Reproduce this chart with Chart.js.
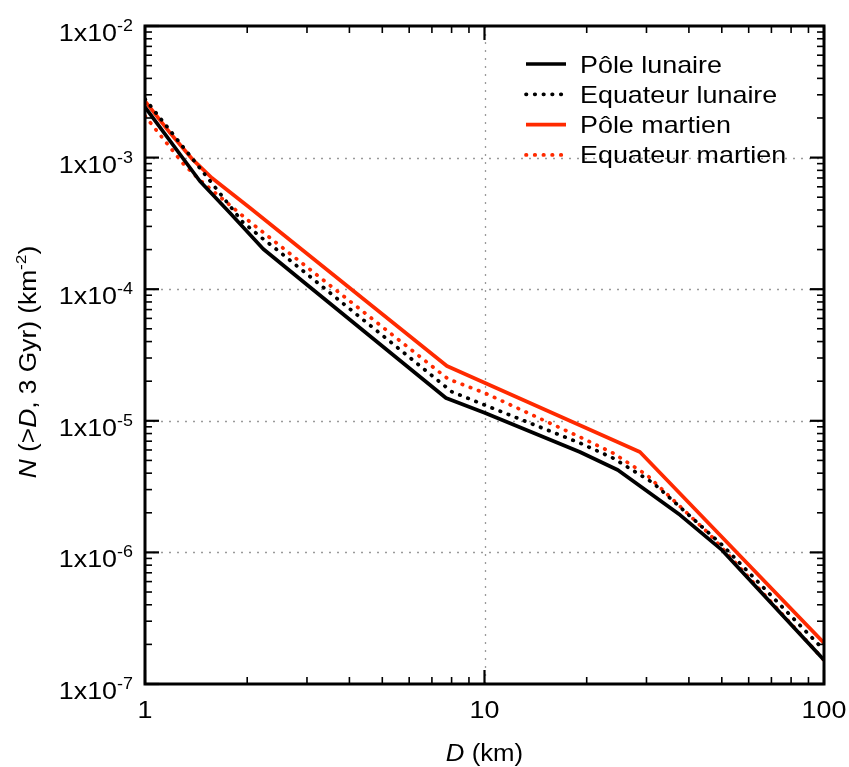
<!DOCTYPE html>
<html>
<head>
<meta charset="utf-8">
<script src="https://cdn.jsdelivr.net/npm/chart.js@4.4.0/dist/chart.umd.min.js"></script>
<style>
  html, body { margin: 0; padding: 0; background: #fff; }
  #wrap { width: 849px; height: 767px; position: relative; }
</style>
</head>
<body>
<div id="wrap"><canvas id="craterChart"></canvas></div>
<script>
// Données (D en km, N cumulé en km^-2)
const poleLunaireD = [1, 1.45, 1.78, 2.23, 2.86, 7.7, 10, 19.1, 24.7, 37.7, 50.1, 100];
const poleLunaireN = [2.42e-3, 6.64e-4, 3.79e-4, 2.02e-4, 1.195e-4, 1.49e-5, 1.15e-5, 5.79e-6, 4.23e-6, 1.92e-6, 1.04e-6, 1.52e-7];

const equateurLunaireD = [1, 1.94, 2.21, 2.45, 8.02, 10, 19.1, 23.9, 31.4, 50.1, 100];
const equateurLunaireN = [2.79e-3, 3.24e-4, 2.45e-4, 1.99e-4, 1.66e-5, 1.32e-5, 6.78e-6, 5.21e-6, 3.37e-6, 1.14e-6, 1.81e-7];

const poleMartienD = [1, 1.185, 1.385, 1.575, 2.04, 7.75, 28.7, 100];
const poleMartienN = [2.69e-3, 1.54e-3, 9.6e-4, 7.0e-4, 4.14e-4, 2.61e-5, 5.79e-6, 2.05e-7];

const equateurMartienD = [1, 1.29, 1.45, 2.04, 7.81, 10, 19.1, 23.9, 30.1, 46.2, 100];
const equateurMartienN = [2.07e-3, 9.1e-4, 6.76e-4, 3.24e-4, 2.08e-5, 1.63e-5, 7.53e-6, 5.69e-6, 3.87e-6, 1.36e-6, 1.52e-7];

// Graduations
const xMajorTicks = [1, 10, 100];
const xTickLabels = ['1', '10', '100'];
const yMajorTicks = [1e-7, 1e-6, 1e-5, 1e-4, 1e-3, 1e-2];
const yTickExponents = ['-7', '-6', '-5', '-4', '-3', '-2'];

const ROUGE = '#ff2a00';
const FONT = '"Liberation Sans", Arial, Helvetica, sans-serif';
const STRETCH = 1.12;

function toPoints(xs, ys) {
    return xs.map((x, i) => ({ x: x, y: ys[i] }));
}

// Texte étiré horizontalement (la police d'origine est plus large)
function drawText(ctx, str, x, y, size, opts) {
    opts = opts || {};
    ctx.save();
    ctx.font = (opts.italic ? 'italic ' : '') + size + 'px ' + FONT;
    ctx.fillStyle = '#000';
    ctx.textBaseline = 'alphabetic';
    ctx.textAlign = 'left';
    const w = ctx.measureText(str).width * STRETCH;
    let x0 = x;
    if (opts.align === 'center') x0 = x - w / 2;
    if (opts.align === 'right') x0 = x - w;
    ctx.translate(x0, y);
    ctx.scale(STRETCH, 1);
    ctx.fillText(str, 0, 0);
    ctx.restore();
    return w;
}

function textWidth(ctx, str, size, italic) {
    ctx.save();
    ctx.font = (italic ? 'italic ' : '') + size + 'px ' + FONT;
    const w = ctx.measureText(str).width * STRETCH;
    ctx.restore();
    return w;
}

function minorValues(min, max) {
    const vals = [];
    for (let e = Math.round(Math.log10(min)); e < Math.round(Math.log10(max)); e++) {
        for (let k = 2; k <= 9; k++) vals.push(k * Math.pow(10, e));
    }
    return vals;
}

const axesPlugin = {
    id: 'axesPlugin',
    beforeDatasetsDraw(chart) {
        const { ctx, chartArea: a, scales: { x, y } } = chart;
        ctx.save();
        ctx.strokeStyle = '#9a9a9a';
        ctx.lineWidth = 1.3;
        ctx.setLineDash([2, 6]);
        xMajorTicks.slice(1, -1).forEach(v => {
            const px = Math.round(x.getPixelForValue(v)) + 0.5;
            ctx.beginPath(); ctx.moveTo(px, a.top); ctx.lineTo(px, a.bottom); ctx.stroke();
        });
        yMajorTicks.slice(1, -1).forEach(v => {
            const py = Math.round(y.getPixelForValue(v)) + 0.5;
            ctx.beginPath(); ctx.moveTo(a.left, py); ctx.lineTo(a.right, py); ctx.stroke();
        });
        ctx.restore();
    },
    afterDatasetsDraw(chart) {
        const { ctx, chartArea: a, scales: { x, y } } = chart;
        ctx.save();
        ctx.strokeStyle = '#000';
        ctx.setLineDash([]);

        // petites graduations vers l'intérieur, sur les quatre côtés
        ctx.lineWidth = 1.6;
        const tick = (x1, y1, x2, y2) => { ctx.beginPath(); ctx.moveTo(x1, y1); ctx.lineTo(x2, y2); ctx.stroke(); };
        minorValues(1, 100).forEach(v => {
            const px = x.getPixelForValue(v);
            tick(px, a.bottom, px, a.bottom - 7);
            tick(px, a.top, px, a.top + 7);
        });
        minorValues(1e-7, 1e-2).forEach(v => {
            const py = y.getPixelForValue(v);
            tick(a.left, py, a.left + 7, py);
            tick(a.right, py, a.right - 7, py);
        });
        ctx.lineWidth = 2.2;
        xMajorTicks.forEach(v => {
            const px = x.getPixelForValue(v);
            tick(px, a.bottom, px, a.bottom - 14);
            tick(px, a.top, px, a.top + 14);
        });
        yMajorTicks.forEach(v => {
            const py = y.getPixelForValue(v);
            tick(a.left, py, a.left + 14, py);
            tick(a.right, py, a.right - 14, py);
        });

        // cadre
        ctx.lineWidth = 3;
        ctx.strokeRect(a.left, a.top, a.right - a.left, a.bottom - a.top);

        // étiquettes de l'axe x
        xMajorTicks.forEach((v, i) => {
            drawText(ctx, xTickLabels[i], x.getPixelForValue(v), a.bottom + 34, 24, { align: 'center' });
        });

        // étiquettes de l'axe y : 1x10^n
        yMajorTicks.forEach((v, i) => {
            const py = y.getPixelForValue(v);
            const wExp = textWidth(ctx, yTickExponents[i], 16);
            const wBase = textWidth(ctx, '1x10', 24);
            const right = a.left - 12;
            drawText(ctx, '1x10', right - wExp - wBase, py + 15, 24);
            drawText(ctx, yTickExponents[i], right - wExp, py + 5, 16);
        });

        // titre de l'axe x : D (km)
        const xt = [['D', true], [' (km)', false]];
        const xtW = xt.reduce((s, p) => s + textWidth(ctx, p[0], 23, p[1]), 0);
        let cx = (a.left + a.right) / 2 - xtW / 2;
        xt.forEach(p => { cx += drawText(ctx, p[0], cx, 761, 23, { italic: p[1] }); });

        // titre de l'axe y : N (>D, 3 Gyr) (km^-2)
        ctx.save();
        ctx.translate(36, 362);
        ctx.rotate(-Math.PI / 2);
        const yt = [['N', 23.5, true, 0], [' (>', 23.5, false, 0], ['D', 23.5, true, 0], [', 3 Gyr) (km', 23.5, false, 0], ['-2', 15.5, false, -10], [')', 23.5, false, 0]];
        const ytW = yt.reduce((s, p) => s + textWidth(ctx, p[0], p[1], p[2]), 0);
        let cy = -ytW / 2;
        yt.forEach(p => { cy += drawText(ctx, p[0], cy, p[3], p[1], { italic: p[2] }); });
        ctx.restore();

        // légende
        chart.data.datasets.forEach((ds, i) => {
            const ly = 64 + i * 30.3;
            ctx.save();
            ctx.strokeStyle = ds.borderColor;
            ctx.lineWidth = ds.borderWidth;
            ctx.lineCap = ds.borderCapStyle || 'butt';
            ctx.setLineDash(ds.borderDash || []);
            ctx.beginPath(); ctx.moveTo(526, ly); ctx.lineTo(566, ly); ctx.stroke();
            ctx.restore();
            drawText(ctx, ds.label, 580, ly + 8.5, 24);
        });
        ctx.restore();
    }
};

const solid = { borderWidth: 3.7, borderCapStyle: 'butt', borderDash: [] };
const dotted = { borderWidth: 3.7, borderCapStyle: 'round', borderDash: [0.5, 8.2] };

new Chart(document.getElementById('craterChart'), {
    type: 'line',
    data: {
        datasets: [
            Object.assign({ label: 'Pôle lunaire', data: toPoints(poleLunaireD, poleLunaireN), borderColor: '#000' }, solid),
            Object.assign({ label: 'Equateur lunaire', data: toPoints(equateurLunaireD, equateurLunaireN), borderColor: '#000' }, dotted),
            Object.assign({ label: 'Pôle martien', data: toPoints(poleMartienD, poleMartienN), borderColor: ROUGE }, solid),
            Object.assign({ label: 'Equateur martien', data: toPoints(equateurMartienD, equateurMartienN), borderColor: ROUGE }, dotted)
        ]
    },
    options: {
        responsive: true,
        maintainAspectRatio: false,
        animation: false,
        layout: { padding: { left: 145, right: 25, top: 26, bottom: 83 } },
        elements: { point: { radius: 0 }, line: { tension: 0, borderJoinStyle: 'round', fill: false } },
        scales: {
            x: { type: 'logarithmic', min: 1, max: 100, display: false },
            y: { type: 'logarithmic', min: 1e-7, max: 1e-2, display: false }
        },
        plugins: { legend: { display: false }, tooltip: { enabled: false } }
    },
    plugins: [axesPlugin]
});
</script>
</body>
</html>
